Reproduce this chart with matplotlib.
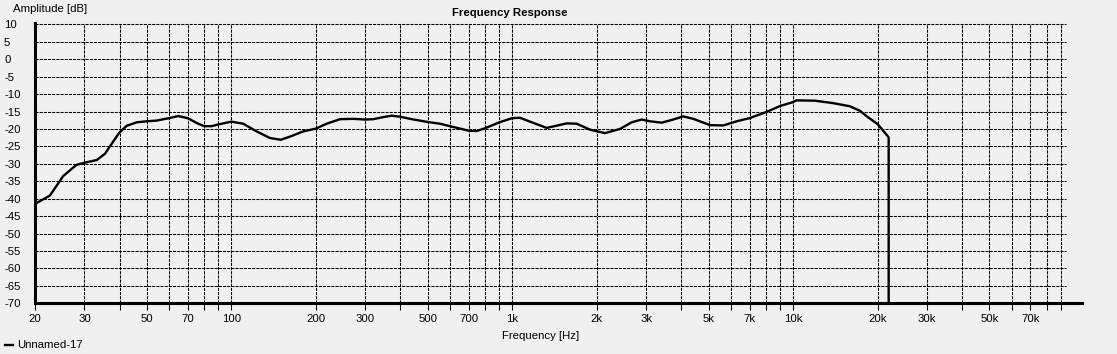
import numpy as np
import matplotlib
matplotlib.use("Agg")
import matplotlib.pyplot as plt
from matplotlib.ticker import FixedLocator, NullFormatter

plt.rcParams["font.family"] = ["Liberation Sans", "DejaVu Sans"]

# frequency response
freq_hz = [20, 22.6, 25.2, 28.1, 30, 33.2, 35.5, 38.5, 40, 42.4, 46, 50, 54.2, 60,
           64.7, 70, 75.3, 80, 85.1, 90, 100, 110.3, 123, 137.3, 150, 161.8, 180.3,
           200, 218.4, 243.7, 271.9, 300, 320.2, 347.5, 372.3, 400, 432.6, 500,
           553.3, 600, 700, 747, 800, 900, 1000, 1066, 1157, 1327, 1563, 1696,
           1892, 2139, 2419, 2662, 2890, 3093, 3404, 3744, 4064, 4413, 5058, 5641,
           6295, 7000, 7620, 8000, 9000, 10000, 10296, 11960, 13900, 15935, 17300,
           18520, 20000, 21890, 21890]
amp_db = [-41.5, -39.1, -33.5, -30.3, -29.7, -28.9, -27.1, -22.9, -21.0, -19.1,
          -18.1, -17.8, -17.6, -16.9, -16.3, -16.9, -18.3, -19.2, -19.2, -18.7,
          -17.9, -18.5, -20.7, -22.6, -23.1, -22.2, -20.7, -19.9, -18.5, -17.2,
          -17.1, -17.3, -17.2, -16.6, -16.2, -16.5, -17.1, -18.0, -18.5, -19.2,
          -20.5, -20.6, -19.8, -18.1, -16.9, -16.8, -17.9, -19.7, -18.4, -18.5,
          -20.2, -21.2, -20.0, -18.1, -17.3, -17.8, -18.2, -17.3, -16.4, -17.1,
          -18.9, -19.0, -17.8, -16.9, -15.8, -15.2, -13.4, -12.3, -11.8, -11.9,
          -12.6, -13.5, -14.8, -16.7, -18.6, -22.4, -70.0]

x_ticks = [20, 30, 50, 70, 100, 200, 300, 500, 700, 1000, 2000, 3000, 5000, 7000,
           10000, 20000, 30000, 50000, 70000]
x_tick_labels = ["20", "30", "50", "70", "100", "200", "300", "500", "700", "1k",
                 "2k", "3k", "5k", "7k", "10k", "20k", "30k", "50k", "70k"]
y_ticks = list(range(-70, 15, 5))

bg = "#f0f0f0"
fs = 8.2
W, H = 1117, 354
fig = plt.figure(figsize=(W / 100, H / 100), dpi=100, facecolor=bg)
ax = fig.add_axes([35 / W, 1 - 303.3 / H, 1047 / W, 280.7 / H], facecolor=bg)

ax.set_xscale("log")
ax.set_xlim(20, 106800)
ax.set_ylim(-70, 10.5)

# dashed grid, drawn by hand so it stops where the original does
all_freqs = [m * 10 ** e for e in range(1, 5) for m in range(1, 10)]
all_freqs = [f for f in all_freqs if 20 < f < 100000]
dash = (0, (3, 1))
ax.vlines(all_freqs, -70, 10, colors="black", linewidth=0.75, linestyles=dash, zorder=1)
ax.hlines([v for v in y_ticks if v > -70], 20, 93600, colors="black",
          linewidth=0.75, linestyles=dash, zorder=1)

line, = ax.plot(freq_hz, amp_db, color="black", linewidth=1.7, zorder=3,
                solid_joinstyle="round")

for s in ["top", "right"]:
    ax.spines[s].set_visible(False)
for s in ["left", "bottom"]:
    ax.spines[s].set_linewidth(2.2)
    ax.spines[s].set_zorder(4)

ax.xaxis.set_major_locator(FixedLocator(x_ticks))
ax.set_xticklabels(x_tick_labels)
ax.xaxis.set_minor_locator(FixedLocator([f for f in all_freqs if f not in x_ticks]))
ax.xaxis.set_minor_formatter(NullFormatter())
ax.tick_params(axis="x", which="both", direction="out", length=5, width=0.75,
               pad=2.5, labelsize=fs, colors="black")

ax.set_yticks(y_ticks)
ax.set_yticklabels([str(v) for v in y_ticks])
ax.tick_params(axis="y", length=0, pad=22.3, labelsize=fs)
for lbl in ax.get_yticklabels():
    lbl.set_horizontalalignment("left")

fig.text(510 / W, 1 - 12.5 / H, "Frequency Response", ha="center", va="center",
         fontsize=fs, fontweight="bold")
fig.text(13 / W, 1 - 8.5 / H, "Amplitude [dB]", ha="left", va="center", fontsize=fs)
fig.text(541 / W, 1 - 336 / H, "Frequency [Hz]", ha="center", va="center", fontsize=fs)

fig.legend([line], ["Unnamed-17"], loc="center left",
           bbox_to_anchor=(5 / W, 1 - 345.5 / H), frameon=False, fontsize=fs,
           handlelength=0.7, handletextpad=0.4, borderaxespad=0, borderpad=0)

fig.savefig("out.png", dpi=100, facecolor=bg)
